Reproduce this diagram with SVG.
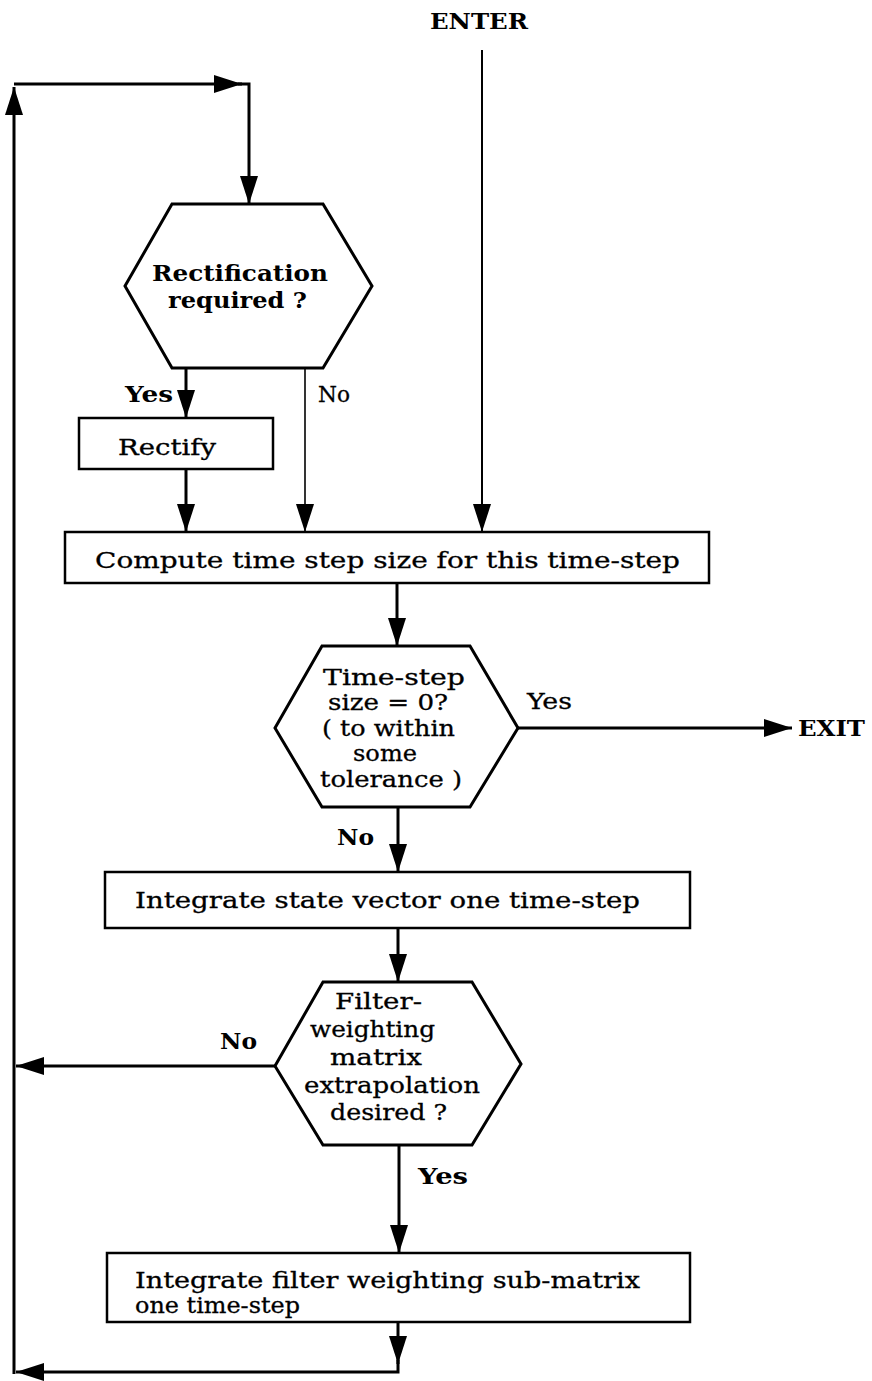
<svg xmlns="http://www.w3.org/2000/svg" width="872" height="1381" viewBox="0 0 872 1381">
<style>
.shape{fill:#fff;stroke:#000;stroke-width:3;stroke-linejoin:miter}
.box{fill:#fff;stroke:#000;stroke-width:2.5}
.ln{fill:none;stroke:#000;stroke-width:3}
.thin{fill:none;stroke:#000;stroke-width:1.6}
.t{font-family:"DejaVu Serif","Liberation Serif",serif;font-size:22.5px;fill:#000}
.m{stroke:#000;stroke-width:0.3}
.b{font-weight:bold}
</style>
<defs>
<marker id="ah" markerUnits="userSpaceOnUse" markerWidth="28" markerHeight="18" viewBox="0 0 28 18" refX="28" refY="9" orient="auto">
<path d="M0,0 L28,9 L0,18 Z" fill="#000"/>
</marker>
</defs>
<rect width="872" height="1381" fill="#fff"/>
<g id="connectors">
<path class="ln" d="M482,50 V532" style="stroke-width:2" marker-end="url(#ah)"/>
<path class="ln" d="M14,1374 V87" marker-end="url(#ah)"/>
<path class="ln" d="M14,84 H242" marker-end="url(#ah)"/>
<path class="ln" d="M238,84 H249 V204" marker-end="url(#ah)"/>
<path class="ln" d="M186,368 V418" marker-end="url(#ah)"/>
<path class="thin" d="M305,368 V532" marker-end="url(#ah)"/>
<path class="ln" d="M186,469 V532" marker-end="url(#ah)"/>
<path class="ln" d="M397,583 V646" marker-end="url(#ah)"/>
<path class="ln" d="M518,728 H792" marker-end="url(#ah)"/>
<path class="ln" d="M398,807 V872" marker-end="url(#ah)"/>
<path class="ln" d="M398,928 V982" marker-end="url(#ah)"/>
<path class="ln" d="M275,1066 H16" marker-end="url(#ah)"/>
<path class="ln" d="M399,1145 V1253" marker-end="url(#ah)"/>
<path class="ln" d="M398,1322 V1364" marker-end="url(#ah)"/>
<path class="ln" d="M398,1360 V1372 H16" marker-end="url(#ah)"/>
</g>
<g id="enter"><text class="t b" x="430" y="29" textLength="98" lengthAdjust="spacingAndGlyphs">ENTER</text></g>
<g id="exit"><text class="t b" x="798" y="736" textLength="67" lengthAdjust="spacingAndGlyphs">EXIT</text></g>
<g id="rectification">
<polygon class="shape" points="172,204 323,204 372,286 323,368 172,368 125,286"/>
<text class="t b" x="152" y="281" textLength="176" lengthAdjust="spacingAndGlyphs">Rectification</text>
<text class="t b" x="168" y="308" textLength="139" lengthAdjust="spacingAndGlyphs">required ?</text>
</g>
<g id="labels">
<text class="t b" x="125" y="402" textLength="48" lengthAdjust="spacingAndGlyphs">Yes</text>
<text class="t m" x="318" y="402" textLength="32" lengthAdjust="spacingAndGlyphs">No</text>
<text class="t m" x="527" y="709" textLength="45" lengthAdjust="spacingAndGlyphs">Yes</text>
<text class="t b" x="337" y="845" textLength="37" lengthAdjust="spacingAndGlyphs">No</text>
<text class="t b" x="220" y="1049" textLength="37" lengthAdjust="spacingAndGlyphs">No</text>
<text class="t b" x="418" y="1184" textLength="50" lengthAdjust="spacingAndGlyphs">Yes</text>
</g>
<g id="rectify">
<rect class="box" x="79" y="418" width="194" height="51"/>
<text class="t m" x="118" y="455" textLength="98" lengthAdjust="spacingAndGlyphs">Rectify</text>
</g>
<g id="compute">
<rect class="box" x="65" y="532" width="644" height="51"/>
<text class="t m" x="95" y="568" textLength="585" lengthAdjust="spacingAndGlyphs">Compute time step size for this time-step</text>
</g>
<g id="timestep">
<polygon class="shape" points="322,646 470,646 518,728 470,807 322,807 275,728"/>
<text class="t m" x="323" y="685" textLength="142" lengthAdjust="spacingAndGlyphs">Time-step</text>
<text class="t m" x="328" y="710" textLength="120" lengthAdjust="spacingAndGlyphs">size = 0?</text>
<text class="t m" x="322" y="736" textLength="133" lengthAdjust="spacingAndGlyphs">( to within</text>
<text class="t m" x="353" y="761" textLength="64" lengthAdjust="spacingAndGlyphs">some</text>
<text class="t m" x="320" y="787" textLength="142" lengthAdjust="spacingAndGlyphs">tolerance )</text>
</g>
<g id="integrate-state">
<rect class="box" x="105" y="872" width="585" height="56"/>
<text class="t m" x="135" y="908" textLength="505" lengthAdjust="spacingAndGlyphs">Integrate state vector one time-step</text>
</g>
<g id="filter-decision">
<polygon class="shape" points="323,982 472,982 521,1064 472,1145 323,1145 275,1066"/>
<text class="t m" x="335" y="1009" textLength="87" lengthAdjust="spacingAndGlyphs">Filter-</text>
<text class="t m" x="310" y="1037" textLength="125" lengthAdjust="spacingAndGlyphs">weighting</text>
<text class="t m" x="330" y="1065" textLength="92" lengthAdjust="spacingAndGlyphs">matrix</text>
<text class="t m" x="304" y="1093" textLength="176" lengthAdjust="spacingAndGlyphs">extrapolation</text>
<text class="t m" x="330" y="1120" textLength="117" lengthAdjust="spacingAndGlyphs">desired ?</text>
</g>
<g id="integrate-filter">
<rect class="box" x="107" y="1253" width="583" height="69"/>
<text class="t m" x="135" y="1288" textLength="505" lengthAdjust="spacingAndGlyphs">Integrate filter weighting sub-matrix</text>
<text class="t m" x="135" y="1313" textLength="165" lengthAdjust="spacingAndGlyphs">one time-step</text>
</g>
</svg>
